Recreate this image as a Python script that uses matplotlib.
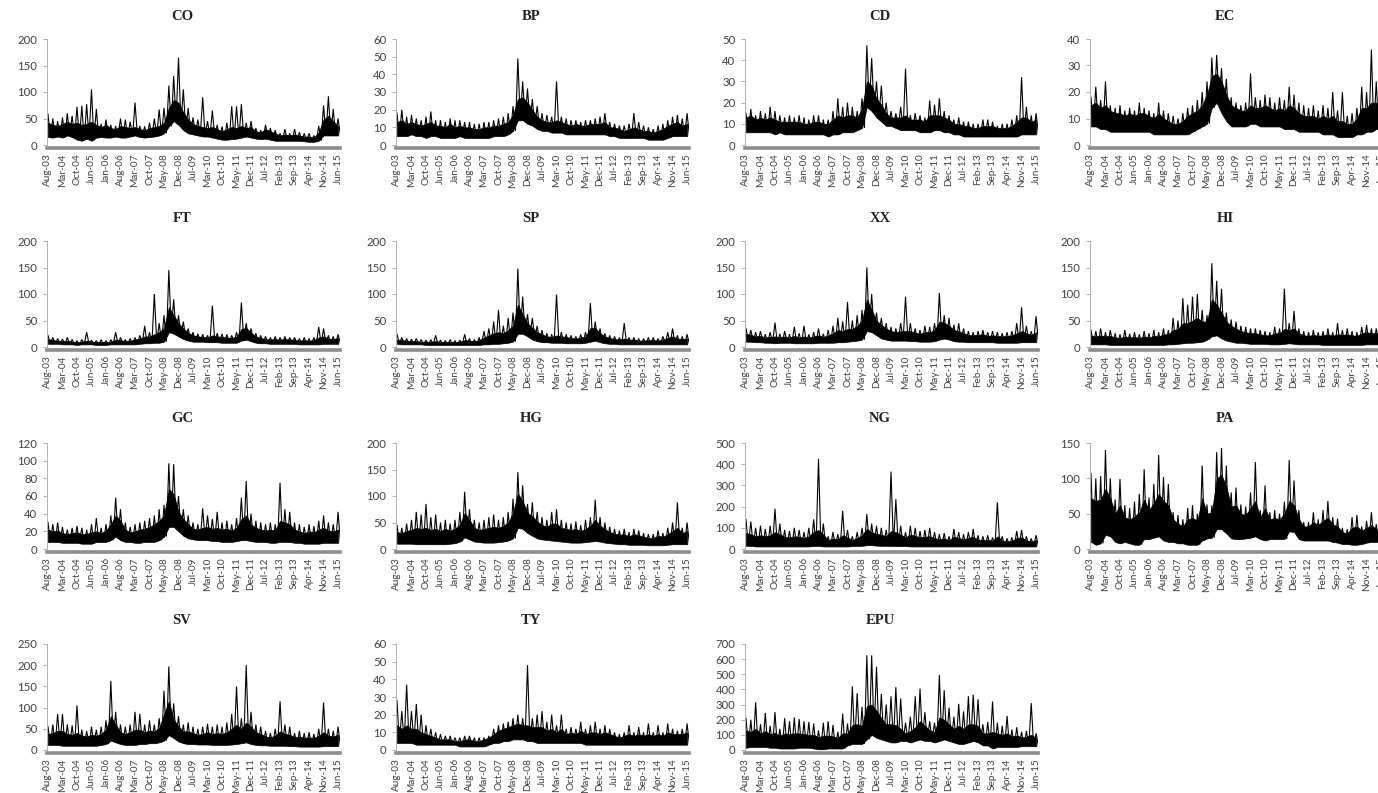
import numpy as np
import matplotlib
matplotlib.use('Agg')
import matplotlib.pyplot as plt

W, H = 1378, 793

date_labels = ['Aug-03', 'Mar-04', 'Oct-04', 'Jun-05', 'Jan-06', 'Aug-06', 'Mar-07', 'Oct-07', 'May-08', 'Dec-08', 'Jul-09',
               'Mar-10', 'Oct-10', 'May-11', 'Dec-11', 'Jul-12', 'Feb-13', 'Sep-13', 'Apr-14', 'Nov-14', 'Jun-15']

# peaks and troughs, three pairs per tick interval
co_hi = [58,50,45,52,60,55,72,74,77,105,68,40,48,38,36,50,48,44,80,36,35,42,50,67,70,112,130,165,105,70,52,48,90,45,65,38,35,42,73,73,77,42,45,32,28,38,32,28,22,30,22,30,24,22,22,18,36,75,92,68,50]
co_lo = [15,14,16,14,18,15,10,8,12,8,14,15,14,14,16,14,14,16,18,15,14,15,16,18,22,35,45,38,28,22,20,18,16,16,14,12,10,10,11,12,14,16,14,12,11,12,10,8,8,8,8,8,8,7,6,6,8,18,18,18,18]
bp_hi = [18,20,16,17,15,14,16,19,14,14,13,15,14,14,13,13,12,12,13,13,14,15,16,18,22,49,36,32,26,22,18,17,16,36,16,15,14,14,13,14,14,15,16,18,13,12,11,11,12,18,13,11,10,9,11,12,14,16,17,15,18]
bp_lo = [5,5,5,6,5,5,4,5,5,4,4,4,4,5,4,4,4,4,4,4,5,5,5,6,8,14,14,12,11,9,8,8,7,7,7,6,6,6,6,6,6,6,6,6,5,5,4,4,4,4,4,4,3,3,3,3,4,5,5,5,5]
cd_hi = [15,17,14,16,15,18,16,14,13,14,13,14,13,12,14,14,12,12,16,22,18,20,18,16,22,47,41,30,28,20,16,15,18,36,14,15,14,13,21,19,22,16,14,12,13,11,11,10,10,12,12,11,9,10,10,12,14,32,18,14,15]
cd_lo = [6,6,6,6,6,6,5,6,5,5,5,5,5,5,5,5,5,4,5,5,6,6,6,7,8,18,16,13,11,9,9,8,7,7,7,7,6,6,6,7,7,6,6,5,5,4,4,4,4,4,4,4,4,4,4,4,4,5,5,5,5]
ec_hi = [18,22,17,24,15,14,15,13,14,13,16,14,13,12,16,13,12,11,10,12,14,15,17,20,24,33,34,29,25,18,16,15,16,27,18,17,19,18,16,18,17,22,19,16,15,14,15,13,15,14,20,13,20,11,12,14,22,20,36,24,20]
ec_lo = [7,7,6,6,5,5,5,5,5,5,5,5,5,4,4,4,4,4,4,4,4,5,6,7,8,14,16,12,9,7,7,7,7,8,8,7,7,7,7,7,6,6,6,5,5,5,5,5,4,4,4,3,3,3,3,4,4,5,5,6,6]
ft_hi = [22,18,16,15,18,14,12,14,28,13,12,14,12,14,28,18,14,16,18,22,40,28,100,45,60,145,90,60,48,35,28,25,24,22,78,26,25,24,22,28,84,45,35,26,22,20,18,20,18,20,18,18,16,18,16,18,38,35,22,20,24]
ft_lo = [6,6,6,5,5,5,4,5,5,5,4,4,4,5,5,5,5,5,5,6,7,7,8,8,10,28,25,20,15,12,10,10,10,9,9,9,8,8,8,8,12,14,11,8,7,7,6,6,6,6,6,6,5,5,5,5,5,6,6,6,6]
sp_hi = [24,18,16,15,16,14,13,14,22,13,12,14,12,13,24,16,14,18,30,35,48,70,40,55,65,148,95,62,55,40,32,26,24,99,28,24,22,20,24,28,83,48,35,26,22,20,18,45,18,18,16,16,18,18,16,20,28,35,22,20,24]
sp_lo = [6,5,5,5,5,5,4,4,4,4,4,4,4,4,4,4,4,4,5,5,6,6,7,8,10,25,25,20,14,11,9,9,8,8,8,7,7,7,7,8,10,12,9,7,6,6,5,5,5,5,5,5,5,5,5,5,5,5,5,5,5]
xx_hi = [35,32,28,30,24,28,46,25,30,24,38,26,40,24,28,35,25,32,40,55,48,85,50,60,70,150,100,65,55,45,38,35,45,95,45,35,32,40,38,45,102,60,55,42,45,35,30,28,30,32,28,30,28,26,28,30,45,75,40,30,58]
xx_lo = [10,10,9,9,8,8,7,8,8,8,7,7,7,7,7,8,8,8,8,9,9,10,11,12,14,30,28,22,16,14,12,12,12,12,11,11,10,10,10,11,14,16,14,11,10,10,9,9,9,9,9,9,8,8,8,8,8,9,9,9,9]
hi_hi = [32,30,35,28,32,26,24,32,25,28,24,30,26,32,28,35,32,55,50,92,80,95,100,70,60,158,125,110,65,52,48,40,38,35,35,32,30,28,38,35,110,45,68,35,30,28,32,28,30,35,28,45,32,35,30,28,38,42,35,35,50]
hi_lo = [5,5,5,5,4,4,4,4,4,4,4,4,4,4,4,4,5,5,6,7,8,8,9,10,14,20,22,16,12,10,8,8,7,6,6,6,6,5,5,5,6,7,6,5,5,5,5,5,4,4,4,4,4,4,4,4,4,5,5,5,5]
gc_hi = [30,28,30,25,22,24,26,24,22,28,35,24,28,38,58,45,30,25,28,30,32,35,38,45,50,97,96,60,45,38,30,28,46,38,34,42,30,32,28,35,58,77,40,32,30,28,30,28,75,45,42,30,28,25,28,26,32,38,30,28,42]
gc_lo = [8,8,8,7,7,7,7,6,6,6,8,8,8,10,14,10,8,8,7,7,8,8,8,10,14,25,25,20,15,12,11,10,10,10,9,9,8,8,8,9,10,10,9,8,8,8,7,7,8,8,8,7,7,6,6,6,6,7,7,7,7]
hg_hi = [45,40,48,55,70,65,85,60,65,50,55,48,55,70,108,75,55,50,55,60,65,55,60,70,95,145,120,85,88,70,60,55,70,75,55,50,48,52,45,55,60,93,60,50,42,38,35,38,32,38,35,30,28,28,35,30,40,50,88,40,50]
hg_lo = [10,10,10,10,9,9,9,9,9,9,9,10,11,14,22,18,14,13,12,12,12,13,14,16,20,40,38,30,25,20,18,17,16,15,14,13,12,12,12,13,14,15,14,12,11,10,9,9,8,8,8,8,7,7,7,7,8,9,9,9,9]
ng_hi = [140,130,100,110,95,110,190,120,90,85,100,90,80,100,140,425,120,60,80,70,180,90,60,80,100,165,120,110,100,90,365,235,110,80,110,100,85,90,100,80,70,75,60,95,80,70,80,95,65,60,65,55,220,60,50,55,85,90,60,50,65]
ng_lo = [15,15,12,12,12,12,12,12,12,12,12,12,12,12,14,15,12,12,12,12,12,12,14,14,15,18,18,16,15,15,15,14,14,14,12,12,12,12,12,12,12,12,12,12,12,12,12,12,12,12,12,12,12,12,12,12,12,12,12,12,12]
pa_hi = [107,100,103,140,100,70,99,62,58,67,78,113,73,92,133,102,92,52,48,42,58,62,50,118,63,62,137,143,118,80,87,63,60,80,123,55,90,52,55,50,67,126,97,55,38,38,52,42,55,68,45,43,30,28,45,48,32,40,52,35,32]
pa_lo = [10,6,8,20,18,10,8,10,8,6,6,14,14,16,18,12,10,10,8,8,6,6,6,12,15,16,28,28,22,15,14,14,15,16,18,14,12,14,14,14,14,25,24,14,12,12,12,12,12,12,10,9,7,7,6,6,7,9,10,10,10]
sv_hi = [55,60,85,85,60,58,105,48,45,55,48,55,70,163,90,60,55,60,90,85,60,70,60,75,140,197,110,80,60,65,55,50,55,62,55,60,55,65,85,150,75,200,90,60,55,45,40,50,115,60,55,40,45,40,42,38,50,112,50,45,55]
sv_lo = [12,12,12,10,10,10,10,10,10,10,10,12,14,22,18,14,12,12,12,14,14,16,16,18,22,35,28,20,16,14,14,13,13,13,12,12,12,12,13,14,16,18,14,12,11,11,10,10,10,10,9,9,8,8,8,8,8,9,9,9,9]
ty_hi = [28,22,37,22,26,20,14,12,10,9,8,8,7,7,8,8,7,7,7,8,12,14,15,16,18,20,18,48,18,20,22,16,20,14,20,12,13,12,16,12,14,16,12,14,12,10,9,10,14,10,13,10,15,10,14,10,15,12,11,12,15]
ty_lo = [4,4,4,4,3,3,3,3,3,3,3,3,3,2,2,2,2,2,2,3,4,4,5,5,6,6,6,5,5,4,4,4,4,4,4,4,4,4,4,3,3,3,3,3,3,3,3,3,3,3,3,3,3,3,3,3,3,3,3,3,3]
epu_hi = [210,200,315,170,245,160,250,140,210,190,215,205,190,185,175,130,180,190,165,120,240,175,420,375,285,625,625,550,370,300,355,415,340,180,220,355,405,250,190,180,495,395,280,220,305,255,355,365,335,170,185,320,180,160,225,135,150,120,125,310,110]
epu_lo = [15,20,20,20,20,15,15,10,10,10,10,15,15,15,10,5,5,10,10,10,10,30,40,40,40,70,100,80,70,60,50,50,60,60,50,60,70,60,60,50,60,70,60,50,40,40,50,60,50,30,30,10,20,20,20,20,20,25,25,25,25]

# top of the solid black body, same spacing as the peaks
co_body = [42,38,36,40,44,40,42,38,40,44,38,34,38,32,30,36,34,32,34,30,28,32,34,36,42,70,85,80,62,48,40,36,34,32,34,30,26,30,34,32,36,32,34,26,24,30,26,22,18,20,18,20,18,16,16,14,24,48,55,45,36]
bp_body = [13,14,12,13,12,11,12,13,11,11,10,12,10,11,10,10,9,9,10,10,11,11,12,13,17,26,27,24,20,16,14,13,13,14,13,12,11,12,11,11,12,12,12,13,10,10,9,8,9,10,9,8,8,7,8,9,11,12,13,11,12]
cd_body = [13,14,12,13,12,13,12,11,11,11,11,11,10,10,11,11,10,10,12,14,13,14,14,13,17,30,28,22,19,15,13,13,13,14,12,12,12,11,14,14,14,13,12,10,10,9,9,8,8,9,9,9,8,8,8,9,11,13,13,11,12]
ec_body = [15,16,14,15,13,12,12,11,12,11,12,12,11,10,12,10,9,8,8,9,11,12,13,15,19,26,27,24,19,15,14,13,13,15,14,14,15,14,13,14,13,15,14,12,11,11,11,10,11,10,11,9,9,8,8,10,14,14,16,16,15]
ft_body = [15,13,12,11,12,10,9,10,12,10,9,10,9,10,14,13,11,12,14,16,20,20,24,28,36,75,60,45,35,27,22,20,19,18,22,20,19,18,17,20,34,36,27,20,17,15,14,15,14,15,14,14,12,13,12,13,18,20,16,15,17]
sp_body = [14,13,12,11,11,10,10,10,11,10,9,10,9,10,13,12,11,13,18,22,26,28,26,32,40,80,62,45,36,28,24,20,19,22,20,19,17,16,18,20,36,36,26,20,17,15,14,16,14,14,12,12,13,13,12,14,17,20,16,15,16]
xx_body = [25,23,20,21,18,19,20,18,20,18,21,18,20,18,20,22,19,22,26,32,30,34,34,40,50,90,70,50,42,35,30,28,30,30,30,27,25,28,28,32,48,46,40,32,30,26,23,22,23,24,21,22,21,20,21,22,26,30,26,23,28]
hi_body = [22,20,22,20,21,18,17,20,18,19,17,20,18,21,20,24,24,32,34,45,45,50,55,48,48,90,80,65,48,40,35,30,28,26,26,24,22,22,26,26,34,32,35,26,22,21,23,21,22,24,21,24,23,24,22,21,26,28,26,26,30]
gc_body = [22,20,21,18,17,18,19,17,17,19,20,18,21,28,38,32,22,19,20,22,23,25,28,32,38,68,62,42,34,28,23,22,24,25,23,24,22,23,21,24,34,38,28,24,22,21,22,21,32,30,28,22,20,18,20,19,22,24,21,20,22]
hg_body = [32,30,34,36,40,38,40,36,38,34,38,35,38,46,68,55,40,36,38,40,42,40,44,50,68,105,90,68,62,52,45,42,48,48,40,38,36,38,34,38,44,55,44,38,32,29,27,28,24,28,26,23,21,21,25,23,28,34,40,30,34]
ng_body = [75,70,60,65,60,65,80,70,58,55,60,58,52,60,80,90,68,42,50,46,65,55,42,52,65,95,80,72,68,60,85,80,68,55,68,62,55,58,60,52,46,50,42,58,52,46,52,58,44,42,44,38,60,40,36,38,52,55,40,36,42]
pa_body = [72,68,70,85,72,50,62,45,42,46,52,70,55,65,78,68,62,42,36,32,42,44,40,72,50,52,100,105,88,60,62,50,48,58,68,45,58,42,44,42,50,68,62,42,32,32,38,34,40,44,35,32,24,22,30,32,26,30,34,28,26]
sv_body = [38,40,45,45,38,36,40,34,32,36,34,38,48,80,60,42,38,42,48,48,42,46,44,52,85,115,72,56,44,44,40,36,38,42,38,40,38,42,50,60,50,65,55,42,38,32,30,34,44,38,36,30,32,29,30,28,34,42,34,32,36]
ty_body = [14,12,14,12,12,10,9,8,7,6,6,6,5,5,6,6,5,5,6,7,9,11,12,13,14,15,14,14,13,13,13,11,12,10,12,9,10,9,11,9,10,10,9,10,9,8,7,8,9,8,9,8,9,8,9,8,10,9,9,9,10]
epu_body = [130,120,140,110,125,105,115,95,110,105,110,110,105,100,100,85,95,95,90,80,110,110,165,170,160,290,300,260,210,170,170,165,140,110,125,150,190,160,130,120,215,200,170,140,160,140,170,170,160,110,110,120,110,100,110,90,95,85,88,100,80]

names = ['CO', 'BP', 'CD', 'EC', 'FT', 'SP', 'XX', 'HI', 'GC', 'HG', 'NG', 'PA', 'SV', 'TY', 'EPU']
highs = [co_hi, bp_hi, cd_hi, ec_hi, ft_hi, sp_hi, xx_hi, hi_hi, gc_hi, hg_hi, ng_hi, pa_hi, sv_hi, ty_hi, epu_hi]
lows = [co_lo, bp_lo, cd_lo, ec_lo, ft_lo, sp_lo, xx_lo, hi_lo, gc_lo, hg_lo, ng_lo, pa_lo, sv_lo, ty_lo, epu_lo]
bodies = [co_body, bp_body, cd_body, ec_body, ft_body, sp_body, xx_body, hi_body, gc_body, hg_body, ng_body, pa_body, sv_body, ty_body, epu_body]
y_max = [200, 60, 50, 40, 200, 200, 200, 200, 120, 200, 500, 150, 250, 60, 700]
y_step = [50, 10, 10, 10, 50, 50, 50, 50, 20, 50, 100, 50, 50, 10, 100]

# pixel layout
lefts = [47, 396, 745, 1090]
tops = [39, 241, 443, 644]
bottoms = [145, 347, 549, 750]
title_y = [16, 218, 419, 621]
panel_w = 293

fig = plt.figure(figsize=(W / 100, H / 100), dpi=100)

for i in range(len(names)):
    row, col = i // 4, i % 4
    ax = fig.add_axes([lefts[col] / W, 1 - bottoms[row] / H, panel_w / W, (bottoms[row] - tops[row]) / H])

    # spine position resets the ticks, so it has to come before the tick setup
    ax.spines['bottom'].set_position(('outward', 2))
    ax.spines['bottom'].set_color('#8c8c8c')
    ax.spines['bottom'].set_linewidth(2.6)
    ax.spines['left'].set_color('#b0b0b0')
    ax.spines['left'].set_linewidth(0.7)
    ax.spines['top'].set_visible(False)
    ax.spines['right'].set_visible(False)

    # peaks and troughs alternate, so the line zigzags between them
    y = np.column_stack([highs[i], lows[i]]).ravel()
    x = np.arange(len(y)) / 2
    ax.plot(x, y, color='black', lw=0.8, solid_joinstyle='miter')
    ax.fill_between(np.arange(len(lows[i])), lows[i], bodies[i], color='black', lw=0.5)

    ax.set_xlim(-0.2, 60.4)
    ax.set_ylim(0, y_max[i])
    ax.set_yticks(np.arange(0, y_max[i] + 1, y_step[i]))
    ax.set_xticks(np.arange(0, 61, 3))
    ax.set_xticklabels(date_labels, rotation=90, family='Lato', fontsize=7.2, color='#404040')
    ax.tick_params(axis='x', length=0, pad=4)
    ax.tick_params(axis='y', length=3, width=0.7, color='#b0b0b0', pad=4)
    plt.setp(ax.get_yticklabels(), family='Lato', fontsize=8.2, color='#404040')

    fig.text((lefts[col] + 135) / W, 1 - title_y[row] / H, names[i], family='Liberation Serif', weight='bold',
             fontsize=10.5, color='#222222', ha='center', va='center')

fig.savefig('out.png', dpi=100)
